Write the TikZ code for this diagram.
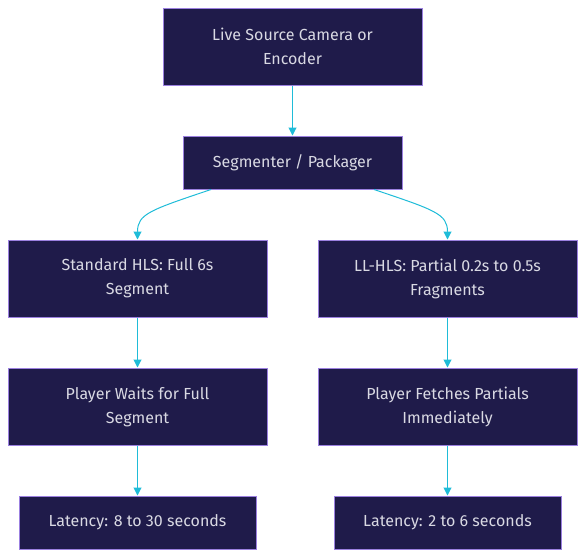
\documentclass[tikz,border=0pt]{standalone}
\usepackage{fontspec}
\setmainfont{Fira Sans}
\usetikzlibrary{arrows.meta}
\definecolor{boxfill}{HTML}{1F1B4A}
\definecolor{boxline}{HTML}{9B80E0}
\definecolor{boxtext}{HTML}{D9D9E3}
\definecolor{flow}{HTML}{1FBCD8}
\begin{document}
\begin{tikzpicture}[x=1pt,y=-1pt,
  stage/.style={draw=boxline,fill=boxfill,line width=1pt,text=boxtext,align=center,
    minimum width=259pt,minimum height=77pt,inner sep=0pt,
    font=\fontsize{16}{24}\selectfont},
  flat/.style={stage,minimum height=53pt},
  link/.style={draw=flow,line width=1pt,-{Triangle[width=8pt,length=8pt]}}]
\useasboundingbox (0,0) rectangle (586,558);
\node[stage] (src) at (292.5,46.5) {Live Source Camera or\\Encoder};
\node[flat,minimum width=219pt] (pkg) at (292.5,162.5) {Segmenter / Packager};
\node[stage] (hls) at (137.5,278.5) {Standard HLS: Full 6s\\Segment};
\node[stage] (llhls) at (447.5,278.5) {LL-HLS: Partial 0.2s to 0.5s\\Fragments};
\node[stage] (wait) at (137.5,406.5) {Player Waits for Full\\Segment};
\node[stage] (fetch) at (447.5,406.5) {Player Fetches Partials\\Immediately};
\node[flat,minimum width=237pt] (slow) at (137.5,522.5) {Latency: 8 to 30 seconds};
\node[flat,minimum width=227pt] (fast) at (447.5,522.5) {Latency: 2 to 6 seconds};
% connectors
\draw[link] (src) -- (pkg);
\draw[link] (pkg.south -| 211,0) .. controls (150,210) and (137.5,214) .. (hls.north);
\draw[link] (pkg.south -| 374,0) .. controls (435,210) and (447.5,214) .. (llhls.north);
\draw[link] (hls) -- (wait);
\draw[link] (llhls) -- (fetch);
\draw[link] (wait) -- (slow);
\draw[link] (fetch) -- (fast);
\end{tikzpicture}
\end{document}
